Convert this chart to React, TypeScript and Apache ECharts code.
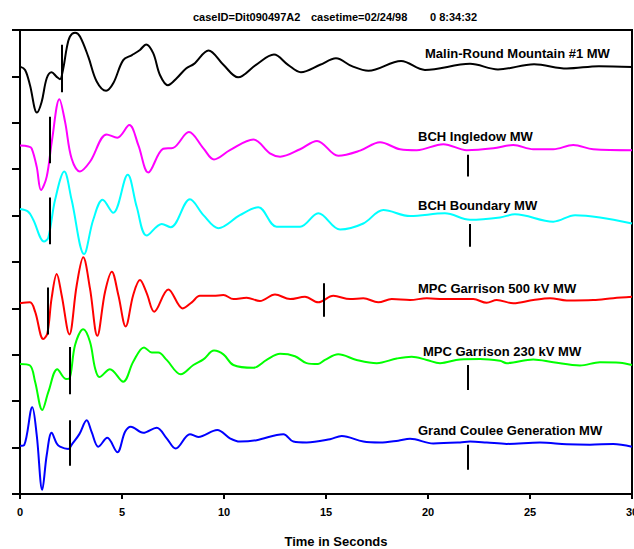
import React, { useEffect, useRef } from "react";
import * as echarts from "echarts";

// ---- Data (time in seconds, value in plot units with stacked offsets) ----
const TITLE_PARTS = ["caseID=Dit090497A2", "casetime=02/24/98", "0 8:34:32"];
const X_TICKS = [0, 5, 10, 15, 20, 25, 30];

const malinRound: number[][] = [
  [0, 9.21], [0.25, 9.14], [0.49, 8.81], [0.83, 8.22], [1.06, 8.45], [1.31, 8.96], [1.55, 9.09],
  [1.8, 8.99], [1.96, 8.94], [2.12, 9.17], [2.29, 9.61], [2.45, 9.86], [2.7, 9.94], [2.94, 9.86],
  [3.35, 9.42], [3.76, 8.89], [4.22, 8.69], [4.57, 8.85], [5.06, 9.35], [5.49, 9.46], [5.88, 9.57],
  [6.18, 9.69], [6.53, 9.5], [6.86, 9.03], [7.25, 8.81], [7.68, 8.96], [8.14, 9.17], [8.53, 9.27],
  [9.24, 9.56], [9.97, 9.25], [10.69, 8.98], [11.57, 9.25], [12.45, 9.47], [13.14, 9.25],
  [13.77, 9.09], [14.71, 9.25], [15.49, 9.39], [16.27, 9.22], [17.08, 9.12], [18.68, 9.33],
  [19.85, 9.14], [22.06, 9.27], [23.43, 9.15], [25.2, 9.26], [26.81, 9.17], [28.38, 9.22], [30, 9.2],
];
const ingledow: number[][] = [
  [0, 7.51], [0.41, 7.49], [0.57, 7.45], [0.82, 7.05], [1.03, 6.55], [1.31, 6.84], [1.57, 7.63],
  [1.93, 8.51], [2.21, 8.02], [2.53, 7.23], [2.94, 6.95], [3.43, 7.16], [4.25, 7.75], [4.77, 7.68],
  [5.36, 7.95], [5.8, 7.52], [6.29, 6.93], [7.02, 7.44], [7.51, 7.46], [8.28, 7.8], [8.99, 7.45],
  [9.51, 7.21], [10.29, 7.41], [11.44, 7.64], [12.25, 7.34], [12.75, 7.27], [13.73, 7.43],
  [14.56, 7.61], [15.6, 7.29], [16.67, 7.4], [17.65, 7.58], [18.63, 7.43], [19.45, 7.41],
  [20.75, 7.54], [21.9, 7.41], [23.2, 7.45], [24.18, 7.52], [25.16, 7.43], [26.14, 7.43],
  [27.12, 7.52], [28.1, 7.43], [30, 7.41],
];
const boundary: number[][] = [
  [0, 6.14], [0.41, 6.08], [0.65, 5.91], [1.18, 5.44], [1.39, 5.53], [1.72, 6.34], [2.17, 6.95],
  [2.53, 6.34], [3.14, 5.17], [3.59, 5.91], [4.05, 6.34], [4.57, 6.06], [5.28, 6.88], [5.72, 6.19],
  [6.21, 5.57], [6.95, 5.82], [7.39, 5.75], [8.33, 6.35], [8.99, 6.01], [9.72, 5.73], [10.78, 6.01],
  [11.68, 6.18], [12.58, 5.76], [13.73, 5.76], [14.62, 6.05], [15.69, 5.7], [16.83, 5.83],
  [17.81, 6.12], [19.12, 5.99], [20.83, 6.05], [22.06, 5.91], [23.53, 5.96], [24.26, 6.03],
  [26.14, 5.87], [27.21, 6.01], [28.43, 5.96], [30, 5.83],
];
const garrison500: number[][] = [
  [0, 4.11], [0.49, 4.13], [0.74, 3.93], [1.14, 3.34], [1.34, 3.46], [1.55, 4.22], [1.8, 4.74],
  [2.04, 4.29], [2.42, 3.44], [2.78, 4.5], [3.1, 5.1], [3.43, 4.43], [3.79, 3.41], [4.17, 4.36],
  [4.5, 4.79], [4.82, 4.29], [5.18, 3.61], [5.55, 4.29], [5.88, 4.61], [6.21, 4.33], [6.58, 3.93],
  [7.27, 4.41], [7.98, 4.0], [8.42, 4.13], [8.82, 4.27], [9.48, 4.27], [9.97, 4.29], [10.46, 4.2],
  [11.11, 4.23], [11.76, 4.16], [12.5, 4.3], [13.24, 4.2], [13.97, 4.25], [14.62, 4.13],
  [15.36, 4.27], [16.18, 4.2], [16.83, 4.22], [17.56, 4.13], [18.22, 4.2], [19.12, 4.18],
  [19.94, 4.22], [20.75, 4.2], [22.22, 4.2], [22.88, 4.12], [23.37, 4.18], [24.18, 4.11],
  [25.16, 4.18], [25.98, 4.22], [26.8, 4.17], [28.1, 4.18], [29.08, 4.22], [30, 4.25],
];
const garrison230: number[][] = [
  [0, 2.8], [0.49, 2.77], [0.74, 2.42], [1.09, 1.81], [1.39, 2.2], [1.83, 2.69], [2.25, 2.48],
  [2.42, 2.49], [2.7, 3.21], [3.1, 3.55], [3.43, 3.28], [3.68, 2.71], [3.89, 2.52], [4.41, 2.69],
  [5.06, 2.42], [5.55, 2.85], [6.08, 3.16], [6.46, 3.05], [6.78, 3.05], [7.19, 2.89], [7.88, 2.58],
  [8.5, 2.78], [8.99, 2.9], [9.51, 3.09], [9.97, 3.01], [10.46, 2.78], [11.44, 2.72], [12.09, 2.89],
  [12.75, 3.02], [13.48, 2.97], [14.05, 2.82], [14.61, 2.8], [14.95, 2.89], [15.6, 3.01],
  [16.5, 2.89], [17.49, 2.82], [18.47, 2.92], [19.2, 2.96], [19.94, 2.89], [20.59, 2.82],
  [21.57, 2.9], [22.55, 2.91], [23.53, 2.87], [23.86, 2.82], [25.16, 2.9], [26.14, 2.84],
  [27.45, 2.77], [28.43, 2.84], [29.41, 2.83], [30, 2.78],
];
const grandCoulee: number[][] = [
  [0, 1.04], [0.21, 1.06], [0.6, 1.87], [0.82, 1.27], [1.09, 0.09], [1.31, 0.84], [1.55, 1.32],
  [1.8, 1.09], [1.96, 1.02], [2.37, 0.97], [2.53, 1.06], [2.91, 1.29], [3.27, 1.59], [3.51, 1.34],
  [3.84, 1.02], [4.28, 1.21], [4.77, 0.9], [5.15, 1.34], [5.43, 1.45], [6.04, 1.32], [6.7, 1.43],
  [7.19, 1.2], [7.63, 0.98], [8.33, 1.29], [8.74, 1.23], [9.67, 1.38], [10.29, 1.2], [10.78, 1.13],
  [11.6, 1.16], [12.91, 1.29], [13.4, 1.13], [14.05, 1.11], [15.2, 1.18], [15.77, 1.25],
  [16.83, 1.13], [17.65, 1.11], [18.54, 1.15], [19.12, 1.19], [20.26, 1.09], [21.57, 1.11],
  [22.06, 1.13], [22.88, 1.11], [23.86, 1.08], [25.49, 1.11], [26.8, 1.07], [27.94, 1.06],
  [29.08, 1.08], [30, 1.02],
];

// markers: [time, top value, bottom value]
const malinMarkers = [[2.04, 9.68, 8.66]];
const ingledowMarkers = [[1.47, 8.13, 7.13], [21.95, 7.31, 6.84]];
const boundaryMarkers = [[1.47, 6.39, 5.38], [22.06, 5.82, 5.33]];
const garrison500Markers = [[1.36, 4.45, 3.44], [14.9, 4.54, 3.82]];
const garrison230Markers = [[2.45, 3.17, 2.15], [21.95, 2.78, 2.24]];
const grandCouleeMarkers = [[2.45, 1.59, 0.61], [21.95, 1.06, 0.52]];

const SERIES_NAMES = [
  "Malin-Round Mountain #1 MW",
  "BCH Ingledow MW",
  "BCH Boundary MW",
  "MPC Garrison 500 kV MW",
  "MPC Garrison 230 kV MW",
  "Grand Coulee Generation MW",
];

const FONT = '"Liberation Sans", Arial, Helvetica, sans-serif';

export default function App() {
  const ref = useRef<HTMLDivElement>(null);

  useEffect(() => {
    if (!ref.current) return;
    const chart = echarts.init(ref.current, undefined, { renderer: "svg" });

    const traces = [
      { data: malinRound, color: "#000000", markers: malinMarkers, lx: 425, ly: 53 },
      { data: ingledow, color: "#ff00ff", markers: ingledowMarkers, lx: 418, ly: 136 },
      { data: boundary, color: "#00ffff", markers: boundaryMarkers, lx: 418, ly: 205 },
      { data: garrison500, color: "#ff0000", markers: garrison500Markers, lx: 418, ly: 288 },
      { data: garrison230, color: "#00ff00", markers: garrison230Markers, lx: 423, ly: 351 },
      { data: grandCoulee, color: "#0000ff", markers: grandCouleeMarkers, lx: 418, ly: 430 },
    ];

    const series: any[] = traces.map((tr, i) => ({
      name: SERIES_NAMES[i],
      type: "line",
      data: tr.data,
      smooth: 0.35,
      symbol: "none",
      showSymbol: false,
      lineStyle: { color: tr.color, width: 2 },
      itemStyle: { color: tr.color },
      clip: true,
      z: 2,
      markLine: {
        silent: true,
        symbol: ["none", "none"],
        label: { show: false },
        lineStyle: { color: "#000000", width: 2, type: "solid" },
        data: tr.markers.map((m) => [
          { coord: [m[0], m[1]] },
          { coord: [m[0], m[2]] },
        ]),
      },
    }));

    const labelTexts = traces.map((tr, i) => ({
      type: "text",
      x: tr.lx,
      y: tr.ly,
      z: 10,
      style: {
        text: SERIES_NAMES[i],
        fill: "#000",
        font: `bold 13px ${FONT}`,
        textAlign: "left",
        textVerticalAlign: "middle",
      },
    }));

    const titleXs = [193, 311, 430];
    const titleTexts = TITLE_PARTS.map((t, i) => ({
      type: "text",
      x: titleXs[i],
      y: 17,
      style: {
        text: t,
        fill: "#000",
        font: `bold 11px ${FONT}`,
        textAlign: "left",
        textVerticalAlign: "middle",
      },
    }));

    chart.setOption({
      animation: false,
      backgroundColor: "#ffffff",
      grid: {
        left: 20,
        right: 2,
        top: 30,
        bottom: 55,
        containLabel: false,
        outerBoundsMode: "none",
        show: true,
        borderColor: "#000",
        borderWidth: 2,
        backgroundColor: "transparent",
      },
      xAxis: {
        type: "value",
        min: X_TICKS[0],
        max: X_TICKS[X_TICKS.length - 1],
        interval: 5,
        axisLine: { show: true, onZero: false, lineStyle: { color: "#000", width: 2 } },
        axisTick: { show: true, inside: false, length: 5, lineStyle: { color: "#000", width: 2 } },
        axisLabel: {
          show: true,
          margin: 12,
          color: "#000",
          fontWeight: "bold",
          fontSize: 11,
          fontFamily: FONT,
          showMaxLabel: true,
          showMinLabel: true,
        },
        splitLine: { show: false },
      },
      yAxis: {
        type: "value",
        min: 0,
        max: 10,
        interval: 1,
        axisLine: { show: true, onZero: false, lineStyle: { color: "#000", width: 2 } },
        axisTick: { show: true, inside: false, length: 8, lineStyle: { color: "#000", width: 2 } },
        axisLabel: { show: false },
        splitLine: { show: false },
      },
      graphic: [
        ...titleTexts,
        ...labelTexts,
        {
          type: "text",
          x: 336,
          y: 541,
          style: {
            text: "Time in Seconds",
            fill: "#000",
            font: `bold 13px ${FONT}`,
            textAlign: "center",
            textVerticalAlign: "middle",
          },
        },
      ],
      series,
    });

    return () => {
      chart.dispose();
    };
  }, []);

  return (
    <div
      ref={ref}
      style={{ position: "absolute", left: 0, top: 0, width: 634, height: 549, background: "#fff" }}
    />
  );
}
